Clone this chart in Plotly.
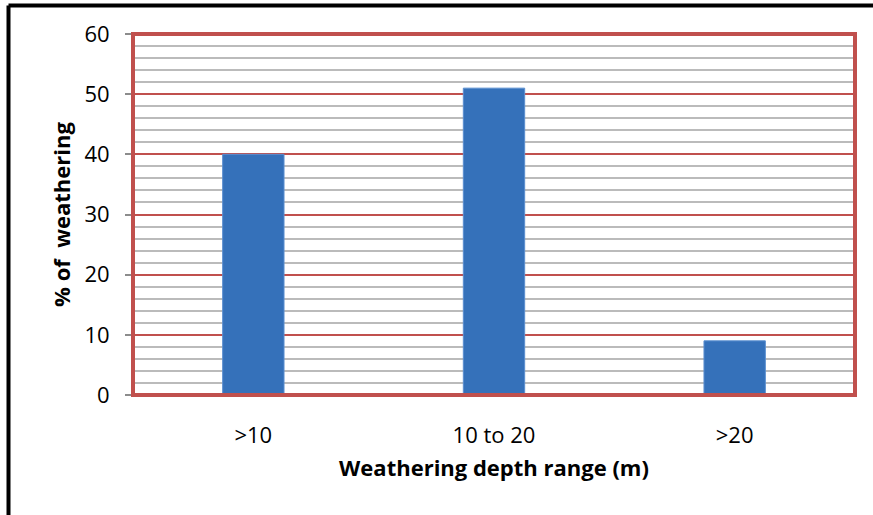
import plotly.graph_objects as go

categories = [">10", "10 to 20", ">20"]
weathering_pct = [40, 51, 9]

W, H = 873, 515
L, R, T, B = 133, 18, 34, 120

fig = go.Figure()
fig.add_trace(
    go.Bar(
        x=categories,
        y=weathering_pct,
        width=0.255,
        marker=dict(color="#3571BA", line=dict(color="#5B8FD0", width=1)),
        showlegend=False,
    )
)

font = "Open Sans, sans-serif"
fig.update_layout(
    width=W,
    height=H,
    margin=dict(l=L, r=R, t=T, b=B),
    paper_bgcolor="white",
    plot_bgcolor="white",
    font=dict(family=font, color="black"),
    xaxis=dict(
        showline=True,
        linecolor="#8C8C8C",
        linewidth=2,
        ticks="",
        ticklabelstandoff=20,
        tickfont=dict(size=22),
        title=dict(
            text="<b>Weathering depth range (m)</b>",
            font=dict(size=22),
            standoff=12,
        ),
    ),
    yaxis=dict(
        range=[0, 60],
        dtick=10,
        showline=True,
        linecolor="#8C8C8C",
        linewidth=2,
        ticks="outside",
        ticklen=6,
        tickcolor="#8C8C8C",
        tickwidth=2,
        ticklabelstandoff=11,
        showgrid=True,
        gridcolor="#C0504D",
        gridwidth=1.5,
        zeroline=False,
        tickfont=dict(size=22),
        minor=dict(dtick=2, showgrid=True, gridcolor="#BBBBBB", gridwidth=2),
        title=dict(text="<b>% of  weathering</b>", font=dict(size=22), standoff=8),
    ),
    shapes=[
        dict(
            type="rect", xref="paper", yref="paper", x0=0, x1=1, y0=0, y1=1,
            line=dict(color="#C0504D", width=4), layer="above",
        ),
        # left and top black frame of the picture
        dict(
            type="line", xref="paper", yref="paper",
            x0=(8.5 - L) / (W - L - R), x1=(8.5 - L) / (W - L - R),
            y0=(B - H) / (H - T - B) - 0.1, y1=1 + (T - 5.5) / (H - T - B),
            line=dict(color="black", width=4),
        ),
        dict(
            type="line", xref="paper", yref="paper",
            x0=(8.5 - L) / (W - L - R), x1=1 + R / (W - L - R) + 0.1,
            y0=1 + (T - 5.5) / (H - T - B), y1=1 + (T - 5.5) / (H - T - B),
            line=dict(color="black", width=4),
        ),
    ],
)

fig.write_html(
    "out.html",
    config={"displayModeBar": False},
    post_script="document.body.style.margin='0';",
)
